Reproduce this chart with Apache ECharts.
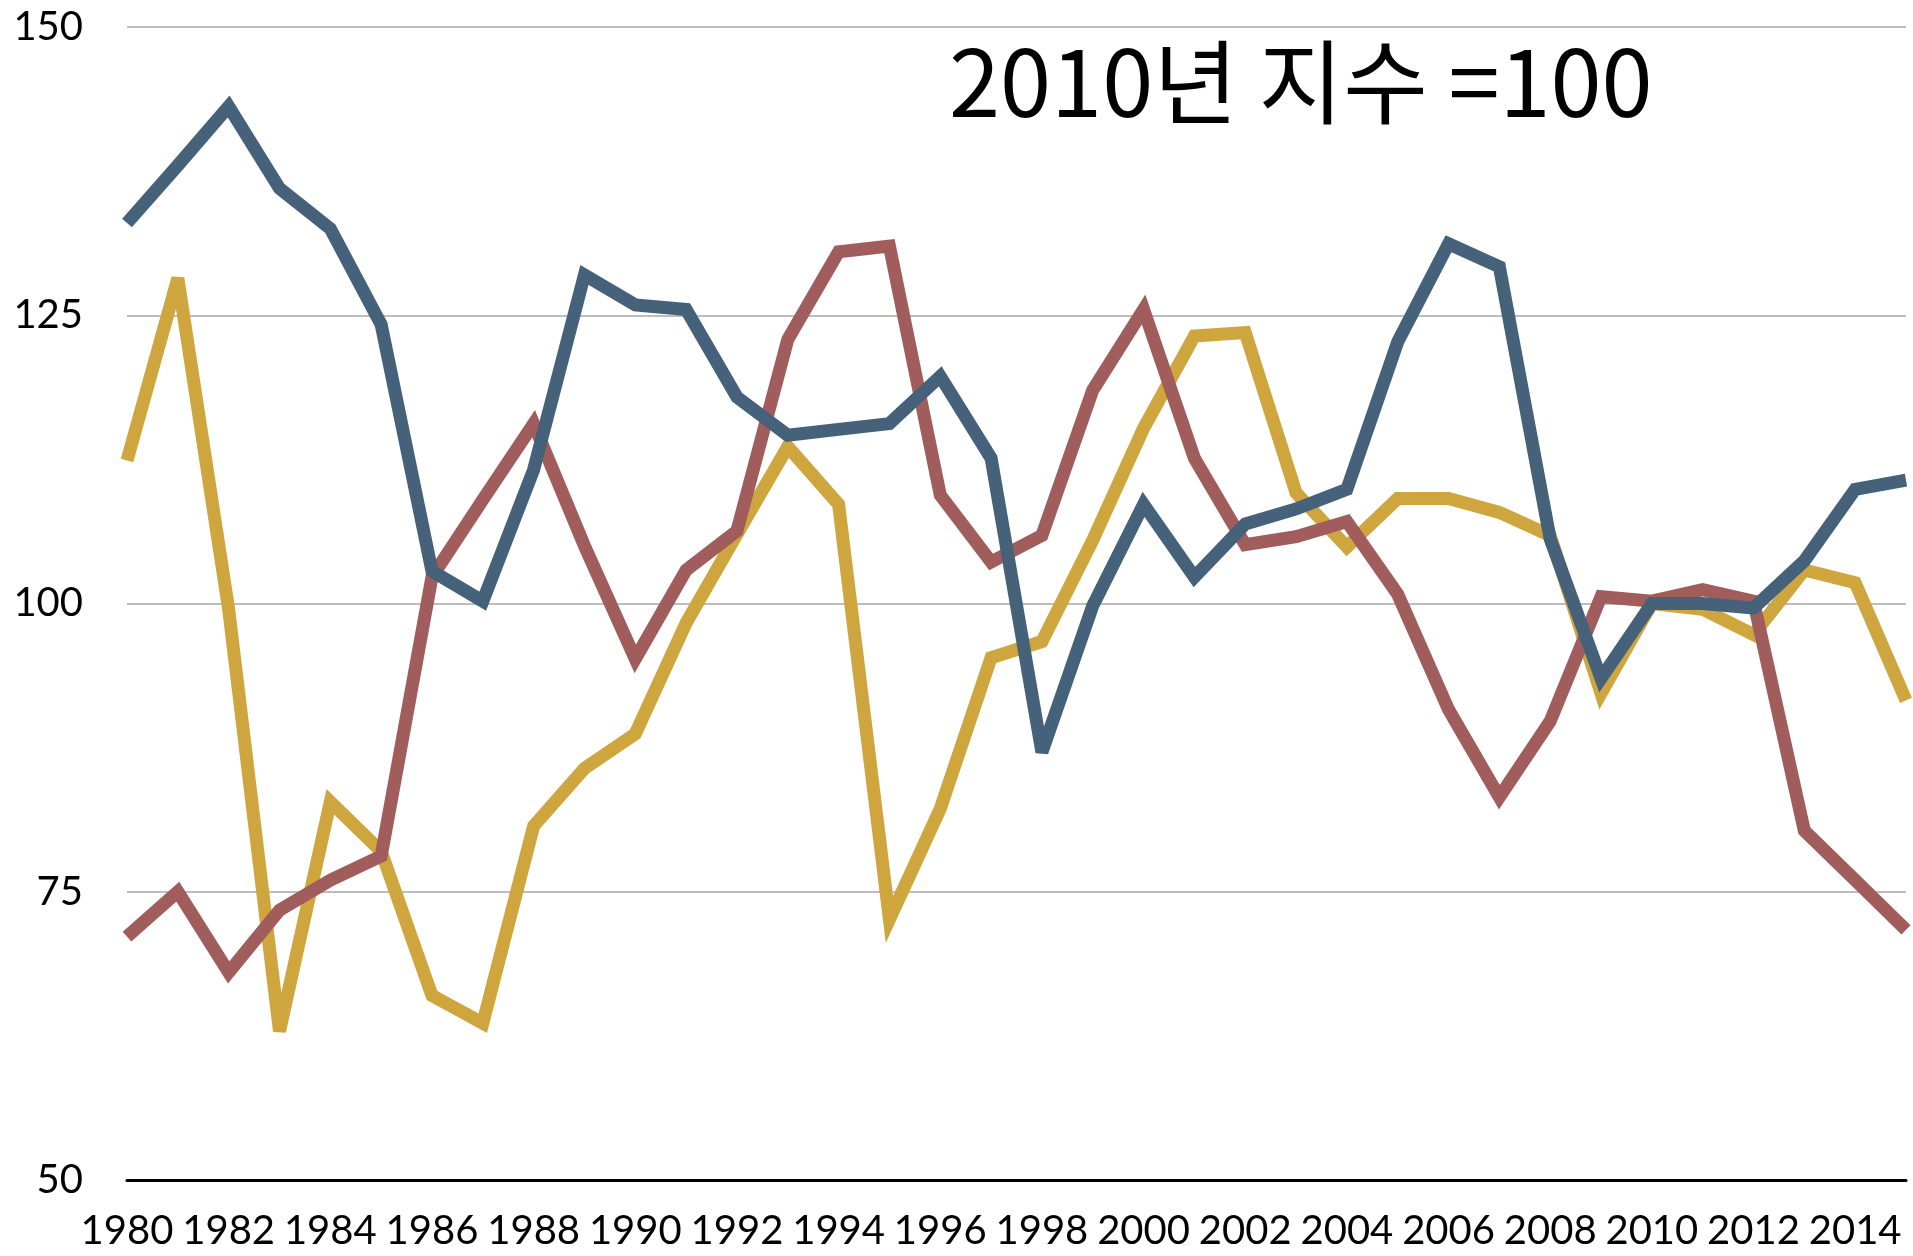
<!DOCTYPE html>
<html>
<head>
<meta charset="utf-8">
<title>2010년 지수 =100</title>
<script src="https://cdn.jsdelivr.net/npm/echarts@6/dist/echarts.min.js"></script>
<style>
    html, body { margin: 0; padding: 0; background: #fff; }
    #chart { width: 1913px; height: 1256px; }
</style>
</head>
<body>
<div id="chart"></div>
<script>
// 연도 (1980 ~ 2015)
var years = ['1980','1981','1982','1983','1984','1985','1986','1987','1988','1989',
             '1990','1991','1992','1993','1994','1995','1996','1997','1998','1999',
             '2000','2001','2002','2003','2004','2005','2006','2007','2008','2009',
             '2010','2011','2012','2013','2014','2015'];

// 파란 선
var blueData = [133.0, 138.0, 143.1, 136.0, 132.5, 124.2, 102.8, 100.2, 111.6, 128.5,
                125.9, 125.5, 117.9, 114.6, 115.1, 115.6, 119.7, 112.6, 87.1, 99.8,
                108.6, 102.3, 106.9, 108.2, 109.9, 122.7, 131.2, 129.2, 105.6, 93.5,
                100.0, 100.0, 99.6, 103.7, 109.9, 110.7];

// 붉은 선
var redData = [71.1, 75.0, 68.0, 73.4, 76.0, 78.1, 102.3, 109.0, 115.6, 105.0,
               95.2, 102.9, 106.3, 122.9, 130.5, 131.0, 109.4, 103.6, 105.9, 118.5,
               125.5, 112.6, 105.1, 105.8, 107.1, 100.8, 90.8, 83.2, 89.8, 100.6,
               100.2, 101.2, 100.2, 80.3, 76.0, 71.7];

// 노란 선
var goldData = [112.4, 128.2, 99.5, 62.9, 82.8, 78.5, 66.0, 63.6, 80.7, 85.7,
                88.7, 98.3, 106.0, 113.6, 108.6, 72.6, 82.2, 95.3, 96.7, 105.5,
                115.2, 123.2, 123.5, 109.6, 104.9, 109.1, 109.1, 107.9, 105.9, 92.2,
                100.0, 99.5, 97.3, 102.9, 101.8, 91.6];

// y축 눈금
var yMin = 50, yMax = 150, yStep = 25;

var chart = echarts.init(document.getElementById('chart'));

var labelFont = 'Lato, "Open Sans", sans-serif';

function lineSeries(name, data, color) {
    return {
        name: name,
        type: 'line',
        data: data,
        symbol: 'none',
        smooth: false,
        lineStyle: { color: color, width: 13, join: 'miter', miterLimit: 3.8 },
        itemStyle: { color: color }
    };
}

var option = {
    backgroundColor: '#ffffff',
    animation: false,
    title: {
        text: '2010년 지수 =100',
        left: 944,
        top: 31,
        textStyle: {
            fontFamily: '"Noto Sans CJK KR", sans-serif',
            fontSize: 92,
            fontWeight: 'normal',
            color: '#000'
        }
    },
    grid: {
        left: 127,
        right: 7,
        top: 27,
        bottom: 76,
        containLabel: false
    },
    xAxis: {
        type: 'category',
        data: years,
        boundaryGap: false,
        axisLine: { show: true, lineStyle: { color: '#000', width: 3 } },
        axisTick: { show: false },
        axisLabel: {
            interval: 1,
            margin: 31,
            fontFamily: labelFont,
            fontSize: 40,
            color: '#000',
            hideOverlap: false
        },
        splitLine: { show: false }
    },
    yAxis: {
        type: 'value',
        min: yMin,
        max: yMax,
        interval: yStep,
        axisLine: { show: false },
        axisTick: { show: false },
        axisLabel: {
            margin: 44,
            fontFamily: labelFont,
            fontSize: 40,
            color: '#000'
        },
        splitLine: { show: true, lineStyle: { color: '#bdbdbd', width: 2 } }
    },
    series: [
        lineSeries('노랑', goldData, '#cfa53e'),
        lineSeries('빨강', redData, '#a15c5c'),
        lineSeries('파랑', blueData, '#46627b')
    ]
};

chart.setOption(option);
</script>
</body>
</html>
